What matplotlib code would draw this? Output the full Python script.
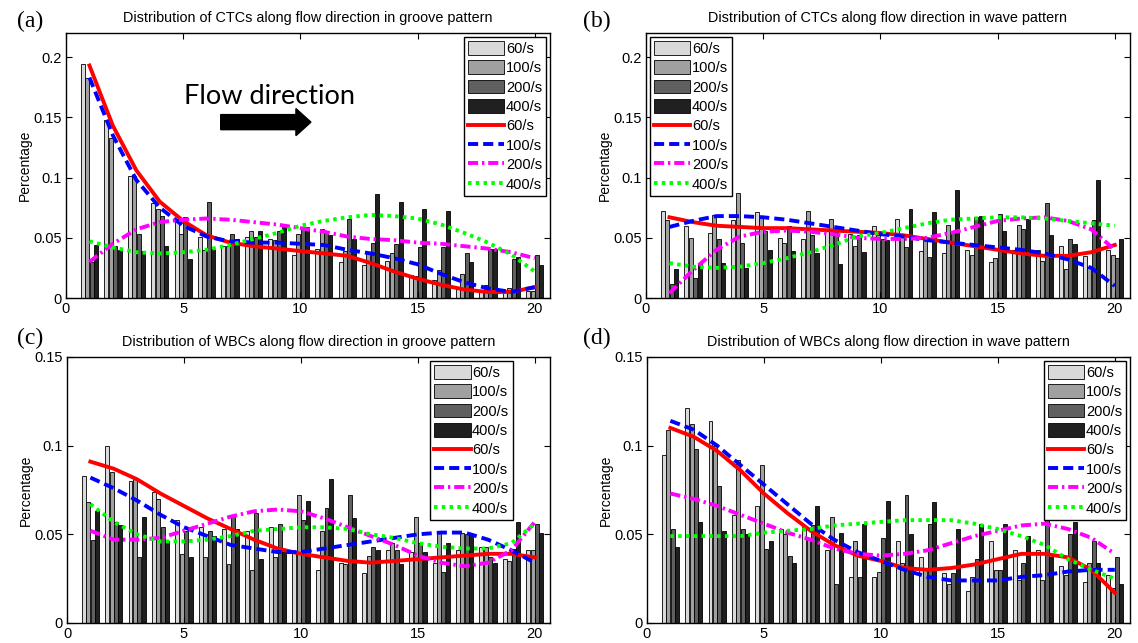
import matplotlib
matplotlib.use("Agg")
import matplotlib.pyplot as plt
from matplotlib.ticker import FuncFormatter

plt.rcParams["font.family"] = ["Liberation Sans", "DejaVu Sans"]

x = list(range(1, 21))
rates = ["60/s", "100/s", "200/s", "400/s"]

# (a) CTCs, groove pattern
ctc_groove_60 = [0.194, 0.148, 0.101, 0.079, 0.066, 0.051, 0.043, 0.051, 0.049, 0.036,
                 0.041, 0.030, 0.027, 0.031, 0.019, 0.015, 0.009, 0.005, 0.006, 0.006]
ctc_groove_100 = [0.183, 0.133, 0.101, 0.074, 0.053, 0.040, 0.043, 0.056, 0.048, 0.053,
                  0.057, 0.039, 0.037, 0.037, 0.018, 0.023, 0.020, 0.011, 0.008, 0.006]
ctc_groove_200 = [0.030, 0.043, 0.053, 0.068, 0.067, 0.080, 0.053, 0.051, 0.056, 0.059,
                  0.055, 0.066, 0.046, 0.045, 0.042, 0.042, 0.037, 0.041, 0.032, 0.036]
ctc_groove_400 = [0.044, 0.040, 0.039, 0.043, 0.032, 0.041, 0.049, 0.056, 0.060, 0.059,
                  0.052, 0.049, 0.086, 0.080, 0.074, 0.072, 0.030, 0.041, 0.034, 0.027]
ctc_groove_fit_60 = [0.193, 0.143, 0.106, 0.080, 0.064, 0.052, 0.046, 0.043, 0.041, 0.039,
                     0.037, 0.035, 0.029, 0.022, 0.016, 0.011, 0.007, 0.005, 0.005, 0.009]
ctc_groove_fit_100 = [0.183, 0.135, 0.098, 0.075, 0.060, 0.051, 0.047, 0.046, 0.046, 0.045,
                      0.044, 0.040, 0.037, 0.033, 0.028, 0.020, 0.013, 0.008, 0.005, 0.009]
ctc_groove_fit_200 = [0.030, 0.045, 0.057, 0.063, 0.065, 0.066, 0.065, 0.063, 0.061, 0.058,
                      0.055, 0.051, 0.049, 0.048, 0.046, 0.045, 0.043, 0.041, 0.038, 0.033]
ctc_groove_fit_400 = [0.047, 0.042, 0.038, 0.037, 0.038, 0.040, 0.044, 0.049, 0.054, 0.060,
                      0.064, 0.067, 0.069, 0.068, 0.066, 0.061, 0.054, 0.046, 0.036, 0.022]

# (b) CTCs, wave pattern
ctc_wave_60 = [0.072, 0.060, 0.054, 0.065, 0.071, 0.050, 0.049, 0.057, 0.053, 0.060,
               0.066, 0.039, 0.037, 0.040, 0.030, 0.040, 0.040, 0.043, 0.035, 0.040]
ctc_wave_100 = [0.065, 0.050, 0.069, 0.087, 0.068, 0.046, 0.072, 0.066, 0.043, 0.052,
                0.051, 0.048, 0.061, 0.036, 0.033, 0.061, 0.031, 0.024, 0.026, 0.036]
ctc_wave_200 = [0.012, 0.017, 0.049, 0.046, 0.056, 0.060, 0.052, 0.055, 0.052, 0.049,
                0.042, 0.034, 0.054, 0.067, 0.070, 0.057, 0.079, 0.049, 0.065, 0.033]
ctc_wave_400 = [0.024, 0.028, 0.029, 0.025, 0.040, 0.039, 0.037, 0.028, 0.038, 0.048,
                0.074, 0.071, 0.090, 0.068, 0.056, 0.066, 0.052, 0.045, 0.098, 0.049]
ctc_wave_fit_60 = [0.067, 0.063, 0.060, 0.059, 0.058, 0.058, 0.057, 0.056, 0.055, 0.054,
                   0.052, 0.049, 0.046, 0.043, 0.040, 0.037, 0.035, 0.035, 0.038, 0.044]
ctc_wave_fit_100 = [0.059, 0.064, 0.068, 0.068, 0.067, 0.065, 0.062, 0.059, 0.056, 0.053,
                    0.051, 0.048, 0.046, 0.044, 0.042, 0.040, 0.037, 0.032, 0.025, 0.010]
ctc_wave_fit_200 = [0.004, 0.023, 0.040, 0.051, 0.055, 0.056, 0.055, 0.053, 0.050, 0.049,
                    0.049, 0.050, 0.054, 0.059, 0.064, 0.066, 0.067, 0.064, 0.057, 0.040]
ctc_wave_fit_400 = [0.029, 0.026, 0.025, 0.026, 0.029, 0.033, 0.038, 0.044, 0.051, 0.054,
                    0.058, 0.062, 0.065, 0.066, 0.067, 0.067, 0.066, 0.064, 0.062, 0.060]

# (c) WBCs, groove pattern
wbc_groove_60 = [0.083, 0.100, 0.080, 0.074, 0.058, 0.054, 0.053, 0.052, 0.054, 0.040,
                 0.030, 0.034, 0.028, 0.041, 0.040, 0.034, 0.041, 0.043, 0.036, 0.041]
wbc_groove_100 = [0.068, 0.085, 0.081, 0.070, 0.039, 0.037, 0.033, 0.030, 0.037, 0.072,
                  0.052, 0.033, 0.038, 0.045, 0.060, 0.051, 0.051, 0.043, 0.035, 0.041]
wbc_groove_200 = [0.047, 0.057, 0.037, 0.054, 0.052, 0.052, 0.061, 0.062, 0.056, 0.058,
                  0.065, 0.072, 0.043, 0.041, 0.045, 0.029, 0.050, 0.037, 0.042, 0.056]
wbc_groove_400 = [0.063, 0.055, 0.060, 0.046, 0.037, 0.049, 0.053, 0.036, 0.040, 0.069,
                  0.081, 0.059, 0.041, 0.033, 0.040, 0.045, 0.050, 0.034, 0.057, 0.051]
wbc_groove_fit_60 = [0.091, 0.087, 0.081, 0.073, 0.066, 0.059, 0.053, 0.047, 0.042, 0.039,
                     0.037, 0.035, 0.034, 0.035, 0.036, 0.037, 0.038, 0.039, 0.039, 0.037]
wbc_groove_fit_100 = [0.082, 0.076, 0.069, 0.061, 0.054, 0.049, 0.044, 0.042, 0.040, 0.040,
                      0.042, 0.044, 0.046, 0.048, 0.050, 0.051, 0.051, 0.047, 0.041, 0.034]
wbc_groove_fit_200 = [0.052, 0.047, 0.047, 0.048, 0.052, 0.056, 0.060, 0.063, 0.064, 0.063,
                      0.059, 0.054, 0.049, 0.044, 0.038, 0.034, 0.032, 0.034, 0.041, 0.057]
wbc_groove_fit_400 = [0.067, 0.057, 0.050, 0.046, 0.046, 0.047, 0.049, 0.052, 0.053, 0.054,
                      0.054, 0.053, 0.050, 0.048, 0.045, 0.043, 0.042, 0.042, 0.045, 0.056]

# (d) WBCs, wave pattern
wbc_wave_60 = [0.095, 0.121, 0.114, 0.061, 0.066, 0.053, 0.054, 0.041, 0.026, 0.026,
               0.046, 0.037, 0.028, 0.018, 0.046, 0.041, 0.041, 0.032, 0.023, 0.027]
wbc_wave_100 = [0.109, 0.112, 0.100, 0.092, 0.089, 0.050, 0.048, 0.060, 0.046, 0.029,
                0.034, 0.030, 0.022, 0.026, 0.030, 0.024, 0.024, 0.027, 0.034, 0.020]
wbc_wave_200 = [0.053, 0.098, 0.077, 0.053, 0.042, 0.038, 0.055, 0.022, 0.026, 0.048,
                0.072, 0.056, 0.028, 0.036, 0.030, 0.034, 0.093, 0.050, 0.046, 0.037]
wbc_wave_400 = [0.043, 0.057, 0.052, 0.050, 0.046, 0.034, 0.066, 0.051, 0.056, 0.069,
                0.050, 0.068, 0.053, 0.056, 0.056, 0.049, 0.037, 0.057, 0.034, 0.022]
wbc_wave_fit_60 = [0.110, 0.105, 0.097, 0.086, 0.073, 0.062, 0.052, 0.044, 0.038, 0.035,
                   0.031, 0.030, 0.031, 0.033, 0.036, 0.039, 0.039, 0.037, 0.030, 0.017]
wbc_wave_fit_100 = [0.114, 0.109, 0.100, 0.089, 0.078, 0.067, 0.056, 0.047, 0.040, 0.035,
                    0.030, 0.026, 0.024, 0.024, 0.024, 0.026, 0.027, 0.029, 0.030, 0.030]
wbc_wave_fit_200 = [0.073, 0.070, 0.066, 0.061, 0.056, 0.051, 0.047, 0.042, 0.039, 0.038,
                    0.039, 0.041, 0.045, 0.049, 0.052, 0.055, 0.056, 0.053, 0.048, 0.039]
wbc_wave_fit_400 = [0.049, 0.049, 0.049, 0.049, 0.051, 0.052, 0.053, 0.055, 0.056, 0.057,
                    0.058, 0.058, 0.058, 0.056, 0.053, 0.049, 0.044, 0.036, 0.030, 0.025]

bar_colors = ["#d9d9d9", "#a0a0a0", "#606060", "#202020"]
line_styles = [("#ff0000", "-"), ("#0000ff", (0, (2.6, 1.3))),
               ("#ff00ff", (0, (2.6, 1.0, 0.6, 1.0))), ("#00ff00", (0, (0.9, 1.1)))]

panels = [
    ("(a)", "Distribution of CTCs along flow direction in groove pattern",
     [ctc_groove_60, ctc_groove_100, ctc_groove_200, ctc_groove_400],
     [ctc_groove_fit_60, ctc_groove_fit_100, ctc_groove_fit_200, ctc_groove_fit_400],
     0.22, [0, 0.05, 0.1, 0.15, 0.2], dict(loc="upper right", bbox_to_anchor=(1.0, 1.0))),
    ("(b)", "Distribution of CTCs along flow direction in wave pattern",
     [ctc_wave_60, ctc_wave_100, ctc_wave_200, ctc_wave_400],
     [ctc_wave_fit_60, ctc_wave_fit_100, ctc_wave_fit_200, ctc_wave_fit_400],
     0.22, [0, 0.05, 0.1, 0.15, 0.2], dict(loc="upper left", bbox_to_anchor=(0.0, 1.0))),
    ("(c)", "Distribution of WBCs along flow direction in groove pattern",
     [wbc_groove_60, wbc_groove_100, wbc_groove_200, wbc_groove_400],
     [wbc_groove_fit_60, wbc_groove_fit_100, wbc_groove_fit_200, wbc_groove_fit_400],
     0.15, [0, 0.05, 0.1, 0.15], dict(loc="upper right", bbox_to_anchor=(0.93, 1.0))),
    ("(d)", "Distribution of WBCs along flow direction in wave pattern",
     [wbc_wave_60, wbc_wave_100, wbc_wave_200, wbc_wave_400],
     [wbc_wave_fit_60, wbc_wave_fit_100, wbc_wave_fit_200, wbc_wave_fit_400],
     0.15, [0, 0.05, 0.1, 0.15], dict(loc="upper right", bbox_to_anchor=(1.0, 1.0))),
]

W, H = 1138, 643
fig = plt.figure(figsize=(W / 100, H / 100), dpi=100)
# axes boxes in pixels: left, top, right, bottom
boxes = [(66, 33, 550, 298), (646, 33, 1130, 298),
         (67, 357, 550, 623), (647, 357, 1130, 623)]
# panel letters in pixels: x, y centre
letter_pos = [(17, 21), (583, 21), (17, 338), (583, 338)]

offsets = [-0.285, -0.095, 0.095, 0.285]
for (label, title, bars, fits, ymax, yticks, legkw), (l, t, r, b), (lx, ly) in zip(
        panels, boxes, letter_pos):
    ax = fig.add_axes([l / W, 1 - b / H, (r - l) / W, (b - t) / H])
    handles = []
    for vals, off, c, name in zip(bars, offsets, bar_colors, rates):
        h = ax.bar([xi + off for xi in x], vals, width=0.17, color=c,
                   edgecolor="black", linewidth=0.6, label=name)
        handles.append(h)
    for vals, (c, ls), name in zip(fits, line_styles, rates):
        h, = ax.plot(x, vals, color=c, linestyle=ls, linewidth=2.8, label=name)
        handles.append(h)
    ax.set_xlim(0, 20.65)
    ax.set_ylim(0, ymax)
    ax.set_xticks([0, 5, 10, 15, 20])
    ax.set_yticks(yticks)
    ax.yaxis.set_major_formatter(FuncFormatter(lambda v, p: f"{v:g}"))
    ax.tick_params(direction="in", top=True, right=True, labelsize=10.5, length=4, pad=3)
    for s in ax.spines.values():
        s.set_linewidth(1.0)
    ax.set_title(title, fontsize=10.4, pad=8)
    ax.set_ylabel("Percentage", fontsize=10, labelpad=1)
    leg = ax.legend(handles=handles, labels=rates + rates, fontsize=10.5, frameon=True,
                    fancybox=False, edgecolor="black", framealpha=1,
                    borderaxespad=0.25, labelspacing=0.32, handlelength=2.5,
                    handleheight=1.05, handletextpad=0.1, borderpad=0.3, **legkw)
    leg.get_frame().set_linewidth(1.0)
    fig.text(lx / W, 1 - ly / H, label, fontsize=17, family=["Liberation Serif"],
             ha="left", va="center")
    if label == "(a)":
        ax.text(8.7, 0.167, "Flow direction", fontsize=19.5, family=["Lato"],
                ha="center", va="center")
        ax.arrow(6.6, 0.146, 3.85, 0, width=0.0125, head_width=0.0225,
                 head_length=0.64, length_includes_head=True, color="black")

fig.savefig("out.png", dpi=100)
